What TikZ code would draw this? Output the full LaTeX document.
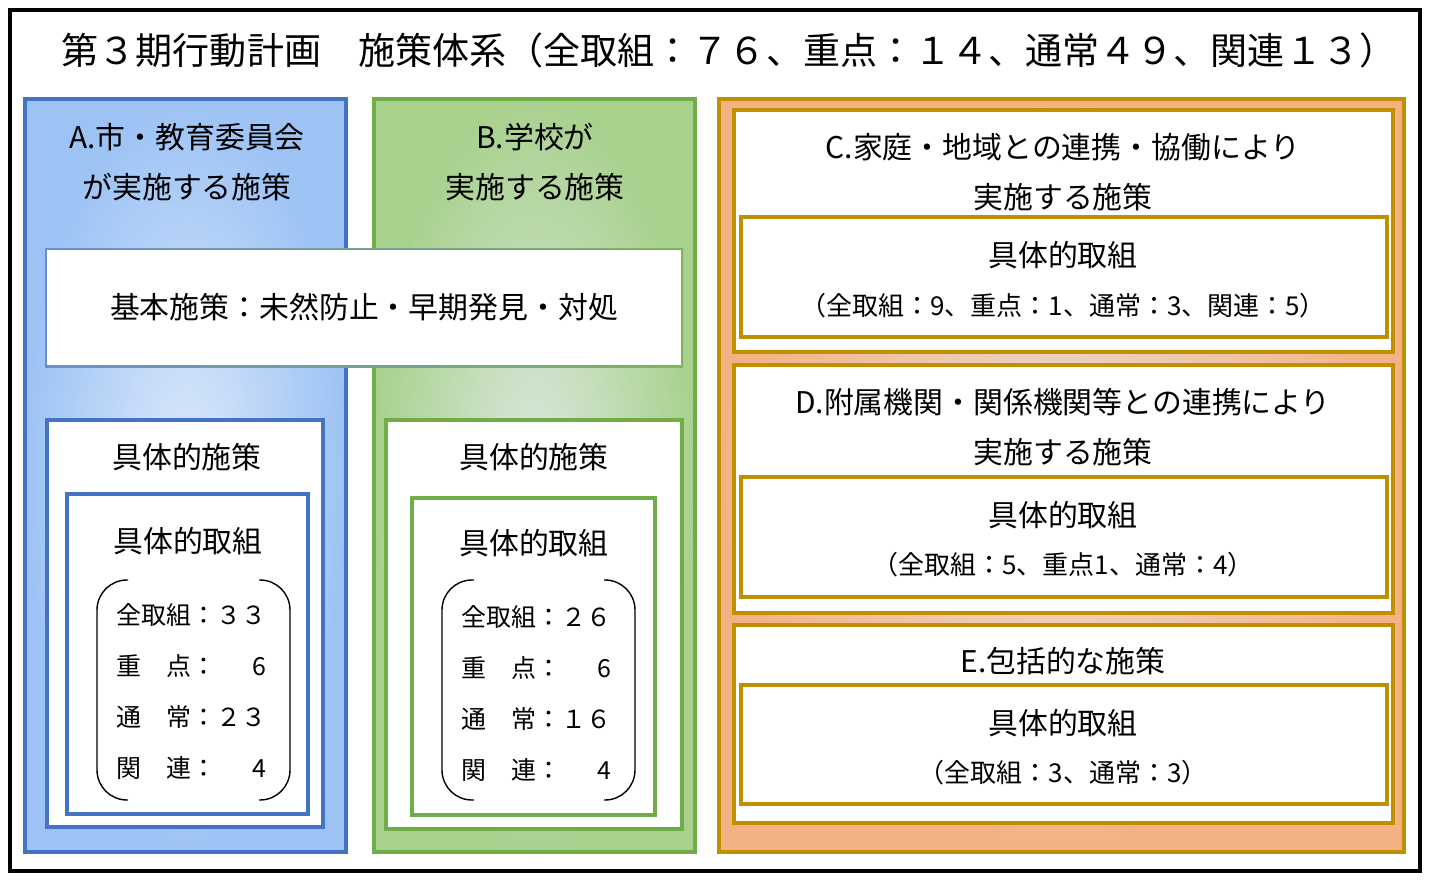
\documentclass[tikz,border=0pt]{standalone}
\usepackage{fontspec}
\setmainfont{Noto Sans CJK JP}
\usepackage{tikz}
\usepackage{xcolor}
\definecolor{ablue}{HTML}{4472C4}
\definecolor{abluefill}{HTML}{9DC3F5}
\definecolor{abluelight}{HTML}{DCE9FA}
\definecolor{bgreen}{HTML}{70AD47}
\definecolor{bgreenfill}{HTML}{A9D18E}
\definecolor{bgreenlight}{HTML}{DAE8DE}
\definecolor{cgold}{HTML}{BF9000}
\definecolor{corange}{HTML}{F4B183}
\definecolor{corangelight}{HTML}{EADDD8}

\begin{document}
\begin{tikzpicture}[x=0.02cm, y=-0.02cm,
    headtext/.style={align=center, font=\fontsize{17pt}{28.5pt}\selectfont, inner sep=0pt},
    titletext/.style={font=\fontsize{21.1pt}{24pt}\selectfont, inner sep=0pt},
    itemtext/.style={anchor=west, font=\fontsize{14.2pt}{17pt}\selectfont, inner sep=0pt},
    smalltext/.style={font=\fontsize{14.8pt}{18pt}\selectfont, inner sep=0pt},
    bluebox/.style={draw=ablue, line width=2pt, fill=white},
    greenbox/.style={draw=bgreen, line width=2pt, fill=white},
    goldbox/.style={draw=cgold, line width=2.1pt, fill=white},
    bracket/.style={draw=black, line width=0.8pt, rounded corners=0.6cm}]
    \useasboundingbox (0,0) rectangle (1438,886);
    \fill[white] (0,0) rectangle (1438,886);
    \draw[black, line width=2.5pt] (10,10) rectangle (1420,871);

    \node[titletext] (Title) at (729,50) {第３期行動計画　施策体系（全取組：７６、重点：１４、通常４９、関連１３）};

    \draw[ablue, line width=2pt, inner color=abluelight, outer color=abluefill] (25,99) rectangle (346,852);
    \draw[bgreen, line width=2pt, inner color=bgreenlight, outer color=bgreenfill] (374,99) rectangle (695,852);
    \draw[cgold, line width=2.1pt, inner color=corangelight, outer color=corange] (719,99) rectangle (1404,852);

    \node[headtext] (ATitle) at (187,162) {A.市・教育委員会\\が実施する施策};
    \node[headtext] (BTitle) at (535,162) {B.学校が\\実施する施策};

    \fill[left color=ablue!80, right color=bgreen!90] (45,248) rectangle (683,367);
    \fill[white] (47,250) rectangle (681,365);
    \node[headtext] (Basic) at (364,307) {基本施策：未然防止・早期発見・対処};

    \draw[bluebox] (47,420) rectangle (323,827);
    \node[headtext] (AMeasure) at (187,457) {具体的施策};
    \draw[bluebox] (67,494) rectangle (308,814);
    \node[headtext] (AAction) at (188,541) {具体的取組};
    \draw[bracket] (128,580) -- (97,580) -- (97,800) -- (128,800);
    \draw[bracket] (259,580) -- (290,580) -- (290,800) -- (259,800);
    \node[itemtext] (AAll) at (116,615) {全取組：３３};
    \node[itemtext] (AKey) at (116,666) {重　点：\makebox[2em][r]{6}};
    \node[itemtext] (ANormal) at (116,717) {通　常：２３};
    \node[itemtext] (ARelated) at (116,768) {関　連：\makebox[2em][r]{4}};

    \draw[greenbox] (386,420) rectangle (682,829);
    \node[headtext] (BMeasure) at (534,457) {具体的施策};
    \draw[greenbox] (412,498) rectangle (655,815);
    \node[headtext] (BAction) at (534,543) {具体的取組};
    \draw[bracket] (474,580) -- (442,580) -- (442,800) -- (474,800);
    \draw[bracket] (604,580) -- (635,580) -- (635,800) -- (604,800);
    \node[itemtext] (BAll) at (461,617) {全取組：２６};
    \node[itemtext] (BKey) at (461,668) {重　点：\makebox[2em][r]{6}};
    \node[itemtext] (BNormal) at (461,719) {通　常：１６};
    \node[itemtext] (BRelated) at (461,770) {関　連：\makebox[2em][r]{4}};

    \draw[goldbox] (734,110) rectangle (1393,352);
    \node[headtext] (CTitle) at (1063,172) {C.家庭・地域との連携・協働により\\実施する施策};
    \draw[goldbox] (741,217) rectangle (1387,337);
    \node[headtext] (CAction) at (1063,255) {具体的取組};
    \node[smalltext] (CCount) at (1063,306) {（全取組：9、重点：1、通常：3、関連：5）};

    \draw[goldbox] (734,365) rectangle (1393,613);
    \node[headtext] (DTitle) at (1063,427) {D.附属機関・関係機関等との連携により\\実施する施策};
    \draw[goldbox] (741,477) rectangle (1387,597);
    \node[headtext] (DAction) at (1063,515) {具体的取組};
    \node[smalltext] (DCount) at (1063,565) {（全取組：5、重点1、通常：4）};

    \draw[goldbox] (734,625) rectangle (1393,823);
    \node[headtext] (ETitle) at (1063,661) {E.包括的な施策};
    \draw[goldbox] (741,685) rectangle (1387,804);
    \node[headtext] (EAction) at (1063,723) {具体的取組};
    \node[smalltext] (ECount) at (1063,773) {（全取組：3、通常：3）};
\end{tikzpicture}
\end{document}
